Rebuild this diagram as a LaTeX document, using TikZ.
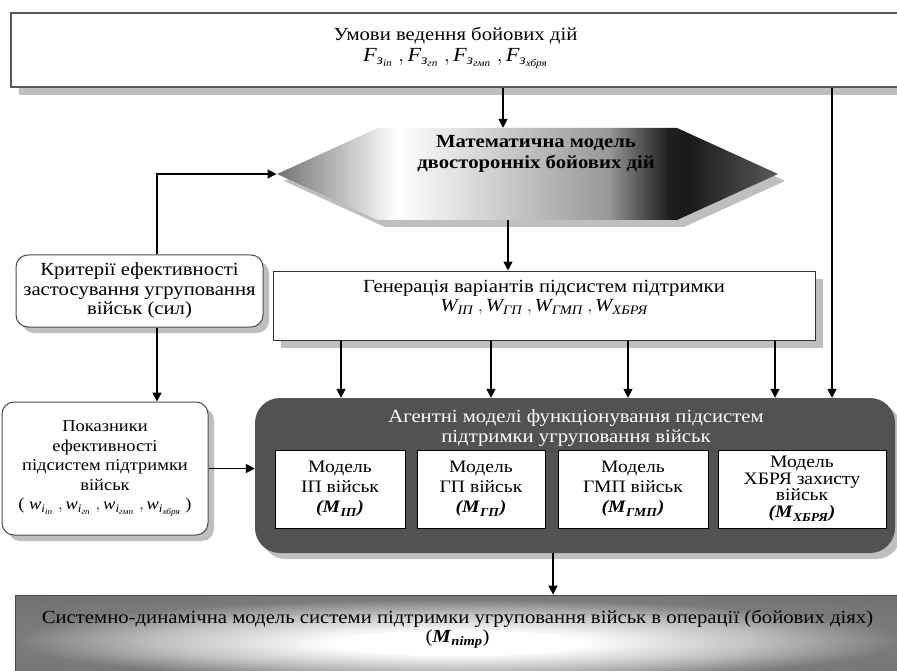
\documentclass[tikz,border=0pt]{standalone}
\usepackage{amsmath}
\usepackage{fontspec}
\setmainfont[FakeStretch=1.12]{Liberation Serif}
\usetikzlibrary{arrows.meta,shapes.symbols,shadows}
\pgfdeclarehorizontalshading{hexshade}{100bp}{color(0bp)=(black!55); color(25bp)=(black!55); color(37bp)=(white); color(50bp)=(black!25); color(58bp)=(black!40); color(64bp)=(black!88); color(66bp)=(black!90); color(75bp)=(black!65); color(100bp)=(black!65)}
\pgfdeclareradialshading{lowshade}{\pgfpoint{0bp}{-5bp}}{color(0bp)=(white); color(7bp)=(white); color(17bp)=(black!25); color(25bp)=(black!52); color(50bp)=(black!62)}
\newcommand{\Fz}[1]{\textit{F}_{\textit{з}_{\textit{#1}}}}
\newcommand{\wi}[1]{\textit{w}_{\textit{i}_{\textit{#1}}}}
\newcommand{\Wp}[1]{\textit{W}_{\textit{#1}}}
\newcommand{\Mb}[1]{\textbf{\textit{(M}}_{\textbf{\textit{#1}}}\textbf{\textit{)}}}
\begin{document}
\begin{tikzpicture}[x=1pt,y=-1pt,
    font=\fontsize{18.5}{19.5}\selectfont,
    arr/.style={line width=1.6pt,-{Triangle[length=9pt,width=9pt]}},
    boxshadow/.style={drop shadow={shadow xshift=#1,shadow yshift=-#1,fill=black!25,opacity=1}},
    topbox/.style={draw=black!65,line width=1.6pt,fill=white,align=center,inner sep=0pt,boxshadow=8pt},
    genbox/.style={draw=black!80,line width=1pt,fill=white,align=center,inner sep=0pt,boxshadow=8pt},
    roundbox/.style={draw=black!70,line width=1pt,fill=white,rounded corners=12pt,align=center,inner sep=0pt,boxshadow=6pt},
    hexagon/.style={signal,signal to=west and east,signal pointer angle=49,shading=hexshade,inner sep=0pt,boxshadow=7pt},
    agentbox/.style={fill=black!68,rounded corners=25pt,inner sep=0pt,boxshadow=6pt},
    modelbox/.style={draw=black,line width=1pt,fill=white,align=center,inner sep=0pt,minimum height=78,font=\fontsize{17.5}{20}\selectfont},
    lowbox/.style={draw=black!70,line width=0.8pt,shading=lowshade,align=center,inner sep=0pt}]
  \useasboundingbox[fill=white] (0,0) rectangle (897,671);
  \node[topbox,minimum width=889,minimum height=74] (cond) at (455.5,50)
    {Умови ведення бойових дій\\[1pt] {\fontsize{20}{22}\selectfont$\Fz{іп}\;,\Fz{гп}\;,\Fz{гмп}\;,\Fz{хбря}$}\\[-8pt] \mbox{}};
  \node[hexagon,minimum width=501,minimum height=92] (model) at (527.5,174) {};
  \node[font=\bfseries\fontsize{18.5}{21}\selectfont,align=center] (modeltext) at (536,154)
    {Математична модель\\двосторонніх бойових дій};
  \node[genbox,minimum width=542,minimum height=69] (gen) at (544,305.5)
    {Генерація варіантів підсистем підтримки\\ $\Wp{ІП}\;,\Wp{ГП}\;,\Wp{ГМП}\;,\Wp{ХБРЯ}$\\ \mbox{}};
  \node[roundbox,minimum width=247,minimum height=72] (crit) at (139.5,291)
    {Критерії ефективності\\застосування угруповання\\військ (сил)};
  \node[roundbox,minimum width=206,minimum height=133,font=\fontsize{16.5}{19.5}\selectfont] (ind) at (105,468.5)
    {Показники\\ефективності\\підсистем підтримки\\військ\\ ( $\wi{іп}\;,\wi{гп}\;,\wi{гмп}\;,\wi{хбря}$ )};
  \node[agentbox,minimum width=640,minimum height=155] (agent) at (575,475.5) {};
  \node[text=white,align=center] (agenttitle) at (576,428)
    {Агентні моделі функціонування підсистем\\підтримки угруповання військ};
  \node[modelbox,minimum width=130] (mip) at (340,489) {Модель\\ІП військ\\ $\Mb{ІП}$};
  \node[modelbox,minimum width=128] (mgp) at (481,489) {Модель\\ГП військ\\ $\Mb{ГП}$};
  \node[modelbox,minimum width=150] (mgmp) at (633,489) {Модель\\ГМП військ\\ $\Mb{ГМП}$};
  \node[modelbox,minimum width=168,font=\fontsize{17.5}{16.5}\selectfont] (mhbrya) at (802,489)
    {Модель\\ХБРЯ захисту\\військ\\ $\Mb{ХБРЯ}$};
  \node[lowbox,minimum width=885,minimum height=82] (sysmodel) at (457.5,636)
    {Системно-динамічна модель системи підтримки угруповання військ в операції (бойових діях)\\ ($\textbf{\textit{M}}_{\textbf{\textit{пітр}}}$)\\ \mbox{}};
  \coordinate (a1) at (503,0);
  \coordinate (a2) at (508,0);
  \coordinate (a3) at (157,0);
  \coordinate (a4) at (553,0);
  \coordinate (b1) at (341,0);
  \coordinate (b2) at (491,0);
  \coordinate (b3) at (628,0);
  \coordinate (b4) at (775,0);
  \coordinate (b5) at (832,0);
  \begin{scope}[arr]
    \draw (cond.south -| a1) to (model.north -| a1);
    \draw (model.south -| a2) to (gen.north -| a2);
    \draw (crit.north -| a3) |- (model.west);
    \draw (crit.south -| a3) to (ind.north -| a3);
    \draw (ind.east) to (agent.west |- ind.east);
    \draw (gen.south -| b1) to (agent.north -| b1);
    \draw (gen.south -| b2) to (agent.north -| b2);
    \draw (gen.south -| b3) to (agent.north -| b3);
    \draw (gen.south -| b4) to (agent.north -| b4);
    \draw (cond.south -| b5) to (agent.north -| b5);
    \draw (agent.south -| a4) to (sysmodel.north -| a4);
  \end{scope}
\end{tikzpicture}
\end{document}
